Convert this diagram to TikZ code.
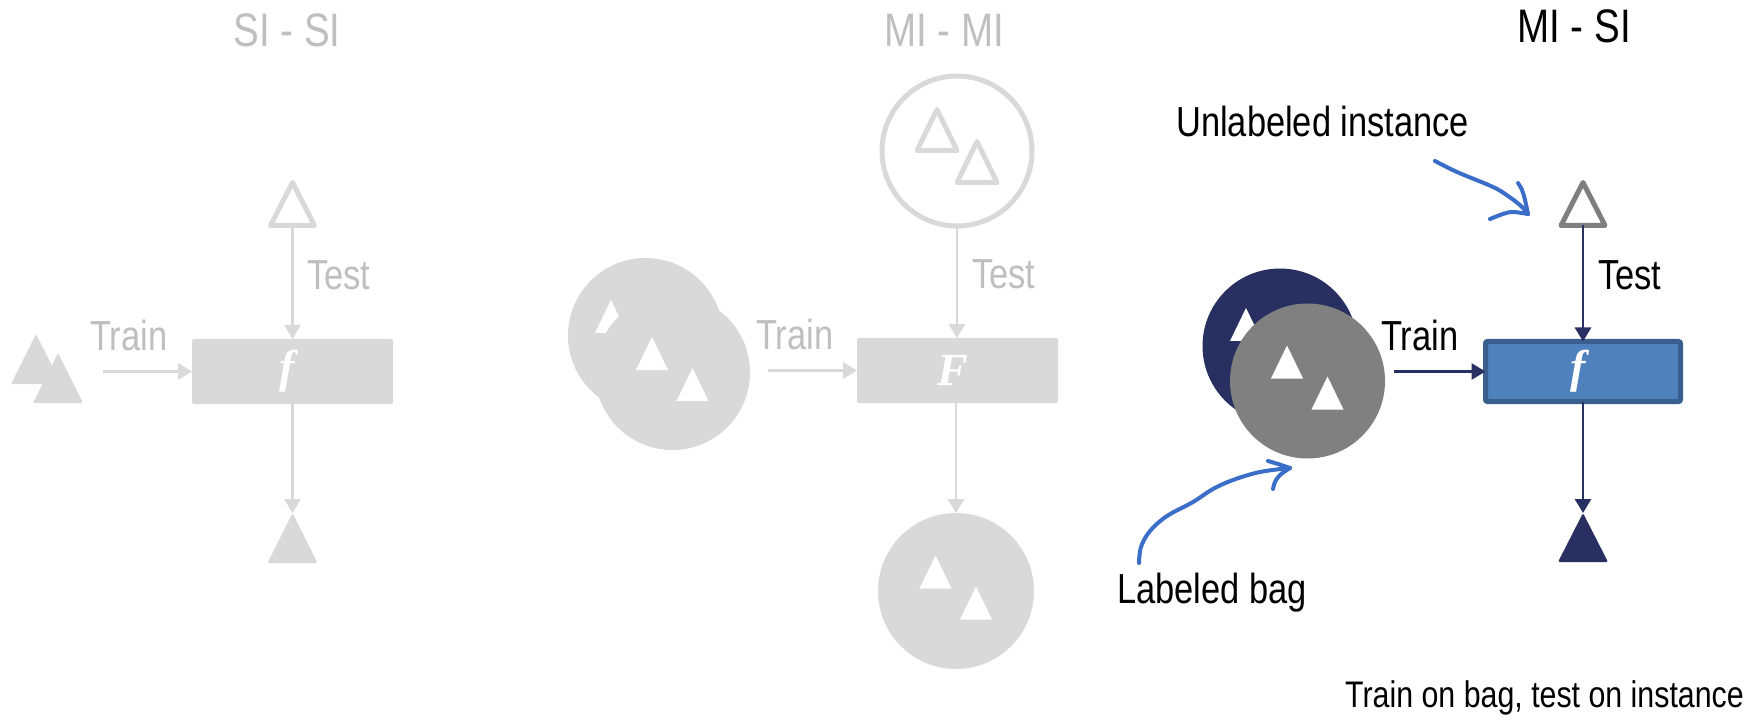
\documentclass[tikz,border=0pt]{standalone}
\usepackage{fontspec}
\setmainfont{Liberation Sans}[FakeStretch=0.82]
\newfontfamily\fnfont{Liberation Serif}
\usetikzlibrary{arrows.meta}

\definecolor{fade}{HTML}{D9D9D9}
\definecolor{fadetext}{HTML}{BFBFBF}
\definecolor{deepnavy}{RGB}{39,48,96}
\definecolor{baggrey}{HTML}{808080}
\definecolor{opengrey}{HTML}{7F7F7F}
\definecolor{boxfill}{HTML}{4F81BD}
\definecolor{boxedge}{HTML}{3A5F8E}
\definecolor{penblue}{RGB}{58,110,200}

\tikzset{
  title/.style={font=\fontsize{47}{54}\selectfont, anchor=base, inner sep=0pt},
  lbl/.style={font=\fontsize{42}{50}\selectfont, anchor=base west, inner sep=0pt},
  note/.style={font=\fontsize{37}{42}\selectfont, anchor=base west, inner sep=0pt},
  fnbox/.style={rectangle, inner sep=0pt, outer sep=0pt, rounded corners=2pt},
  fn/.style={font=\fontsize{46}{50}\selectfont\fnfont\bfseries\itshape, text=white, inner sep=0pt},
  bag/.style={circle, inner sep=0pt, outer sep=0pt, minimum size=155pt},
  trinode/.style={inner sep=0pt, outer sep=0pt},
  flow/.style={line width=2.7pt, -{Triangle[length=14pt,width=16pt]}},
  pen/.style={line width=4pt, line cap=round, line join=round, draw=penblue},
  wpair/.pic={
    \fill[white] (-20.5,-35.5) -- ++(16,33) -- ++(-32,0) -- cycle;
    \fill[white] (20,-4.5) -- ++(16,33) -- ++(-32,0) -- cycle;
  },
  opair/.pic={
    \draw[fade, line width=5pt, line join=round] (-20,-41.5) -- ++(20,41) -- ++(-40,0) -- cycle;
    \draw[fade, line width=5pt, line join=round] (20,-9.5) -- ++(20,41) -- ++(-40,0) -- cycle;
  },
}

\begin{document}
\begin{tikzpicture}[x=1pt, y=-1pt]
\useasboundingbox[fill=white] (0,0) rectangle (1762,727);

% ---------------- single instance -> single instance ----------------
\node[title, text=fadetext] (hA) at (287,47) {SI - SI};

\node[trinode, minimum width=44pt, minimum height=43pt] (tA) at (292.5,204) {};
\draw[fade, line width=5pt, line join=round] (tA.north) -- (tA.south east) -- (tA.south west) -- cycle;

\node[fnbox, fill=fade, minimum width=201pt, minimum height=65pt] (bA) at (292.5,371.5) {};
\node[fn] (fA) at ([xshift=-5pt]bA.center) {f};

\node[trinode, minimum width=50pt, minimum height=50pt] (sA1) at (36,359) {};
\node[trinode, minimum width=50pt, minimum height=50pt] (sA2) at (58,378) {};
\fill[fade, rounded corners=1.5pt] (sA1.north) -- (sA1.south east) -- (sA1.south west) -- cycle;
\fill[fade, rounded corners=1.5pt] (sA2.north) -- (sA2.south east) -- (sA2.south west) -- cycle;

\node[trinode, minimum width=50pt, minimum height=50pt] (oA) at (292.5,538) {};
\fill[fade, rounded corners=1.5pt] (oA.north) -- (oA.south east) -- (oA.south west) -- cycle;

\coordinate (trA) at (103,371.5);
\draw[flow, fade] (tA.south) -- (bA.north);
\draw[flow, fade] (trA) -- (bA.west);
\draw[flow, fade] (bA.south) -- (oA.north);

\node[lbl, text=fadetext] (testA) at (307,290) {Test};
\node[lbl, text=fadetext] (trainA) at (90,351) {Train};

% ---------------- multi instance -> multi instance ----------------
\node[title, text=fadetext] (hB) at (944,47) {MI - MI};

\node[circle, inner sep=0pt, minimum size=150pt, draw=fade, line width=5pt] (qB) at (957,151) {};
\pic at (qB.center) {opair};

\node[fnbox, fill=fade, minimum width=201pt, minimum height=65pt] (bB) at (957.5,370.5) {};
\node[fn] (fB) at ([xshift=-5pt]bB.center) {F};

\node[bag, fill=fade] (bagB1) at (645.5,335.5) {};
\fill[white] (bagB1.center) ++(-34.5,-35.5) -- ++(16,33) -- ++(-32,0) -- cycle;
\node[bag, fill=fade] (bagB2) at (672.5,372.5) {};
\pic at (bagB2.center) {wpair};

\node[bag, fill=fade, minimum size=156pt] (oB) at (956,591) {};
\pic at (oB.center) {wpair};

\coordinate (trB) at (768,370.5);
\draw[flow, fade] (qB.south) -- (qB.south |- bB.north);
\draw[flow, fade] (trB) -- (bB.west);
\draw[flow, fade] (oB.north |- bB.south) -- (oB.north);

\node[lbl, text=fadetext] (testB) at (972,289) {Test};
\node[lbl, text=fadetext] (trainB) at (756,349) {Train};

% ---------------- multi instance -> single instance ----------------
\node[title] (hC) at (1574,43) {MI - SI};

\node[trinode, minimum width=44pt, minimum height=43pt] (tC) at (1583,204) {};
\draw[opengrey, line width=5pt, line join=round] (tC.north) -- (tC.south east) -- (tC.south west) -- cycle;

\node[fnbox, fill=boxfill, draw=boxedge, line width=5pt, minimum width=195pt, minimum height=60pt] (bC) at (1583,371.5) {};
\node[fn] (fC) at ([xshift=-5pt]bC.center) {f};

\node[bag, fill=deepnavy] (bagC1) at (1280,346) {};
\fill[white] (bagC1.center) ++(-34,-38) -- ++(16,33) -- ++(-32,0) -- cycle;
\node[bag, fill=baggrey] (bagC2) at (1307.5,381) {};
\pic at (bagC2.center) {wpair};

\node[trinode, minimum width=50pt, minimum height=49pt] (oC) at (1583,537.5) {};
\fill[deepnavy, rounded corners=1.5pt] (oC.north) -- (oC.south east) -- (oC.south west) -- cycle;

\coordinate (trC) at (1394,371.5);
\draw[flow, deepnavy] (tC.south) -- (bC.north);
\draw[flow, deepnavy] (trC) -- (bC.west);
\draw[flow, deepnavy] (bC.south) -- (oC.north);

\node[lbl] (testC) at (1598,290) {Test};
\node[lbl] (trainC) at (1381,350) {Train};

\node[lbl] (unl) at (1176,137) {Unlabeled instance};
\node[lbl] (lbag) at (1117,603) {Labeled bag};
\node[note] (summary) at (1345,707) {Train on bag, test on instance};

% hand-drawn pointers
\coordinate (penU) at (1528,214);
\draw[pen] plot[smooth, tension=0.6] coordinates {(1435,161) (1457,172) (1493,187) (1508,196) (1521,206) (penU)};
\draw[pen] plot[smooth, tension=0.6] coordinates {(penU) (1525,200) (1522,190) (1518,183)};
\draw[pen] plot[smooth, tension=0.6] coordinates {(penU) (1513,212) (1503,214) (1490,219)};

\coordinate (penL) at (1290,468);
\draw[pen] plot[smooth, tension=0.6] coordinates {(1139,563) (1141,547) (1150,531) (1167,516) (1193,502) (1213,489) (1233,480) (1260,472) (penL)};
\draw[pen] plot[smooth, tension=0.6] coordinates {(1268,461) (1278,464) (penL)};
\draw[pen] plot[smooth, tension=0.6] coordinates {(penL) (1280,475) (1275,482) (1273,489)};
\end{tikzpicture}
\end{document}
